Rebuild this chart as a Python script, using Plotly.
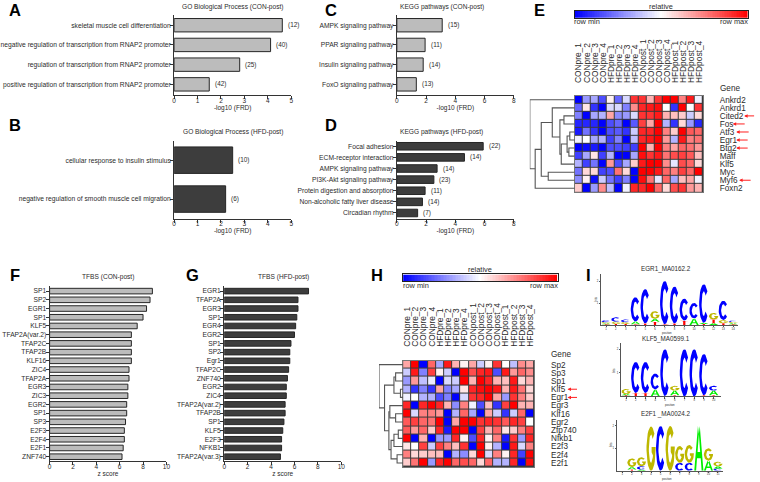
import numpy as np
import plotly.graph_objects as go

W, H = 760, 482
FONT = "Liberation Sans"
INK = "#2b2b2b"

# ---------- bar panels ----------
a_terms = ["skeletal muscle cell differentiation", "negative regulation of transcription from RNAP2 promoter",
           "regulation of transcription from RNAP2 promoter", "positive regulation of transcription from RNAP2 promoter"]
a_vals = [4.62, 4.12, 2.8, 1.5]
a_counts = [12, 40, 25, 42]
b_terms = ["cellular response to insulin stimulus", "negative regulation of smooth muscle cell migration"]
b_vals = [2.5, 2.2]
b_counts = [10, 6]
c_terms = ["AMPK signaling pathway", "PPAR signaling pathway", "Insulin signaling pathway", "FoxO signaling pathway"]
c_vals = [3.1, 1.93, 1.8, 1.33]
c_counts = [15, 11, 14, 13]
d_terms = ["Focal adhesion", "ECM-receptor interaction", "AMPK signaling pathway", "PI3K-Akt signaling pathway",
           "Protein digestion and absorption", "Non-alcoholic fatty liver disease", "Circadian rhythm"]
d_vals = [5.9, 4.62, 2.75, 2.53, 1.93, 1.75, 1.42]
d_counts = [22, 14, 14, 23, 11, 14, 7]
f_terms = ["SP1", "SP2", "EGR1", "SP1", "KLF5", "TFAP2A(var.2)", "TFAP2C", "TFAP2B", "KLF16", "ZIC4", "TFAP2A",
           "EGR3", "ZIC3", "EGR2", "SP1", "SP3", "E2F3", "E2F4", "E2F1", "ZNF740"]
f_vals = [8.8, 8.6, 8.3, 8.0, 7.5, 7.0, 7.0, 7.0, 7.0, 6.8, 6.8, 6.7, 6.7, 6.6, 6.6, 6.5, 6.4, 6.4, 6.3, 6.2]
g_terms = ["EGR1", "TFAP2A", "EGR3", "SP1", "EGR4", "EGR2", "SP1", "SP2", "Egr1", "TFAP2C", "ZNF740", "EGR2", "ZIC4",
           "TFAP2A(var.2)", "TFAP2B", "SP1", "KLF5", "E2F3", "NFKB1", "TFAP2A(var.3)"]
g_vals = [7.2, 6.3, 6.3, 6.2, 6.1, 6.0, 5.7, 5.6, 5.6, 5.5, 5.4, 5.3, 5.3, 5.2, 5.2, 5.1, 5.0, 4.9, 4.9, 4.8]

# ---------- heatmaps ----------
samples = ["CONpre_1", "CONpre_2", "CONpre_3", "CONpre_4", "HFDpre_1", "HFDpre_2", "HFDpre_3", "HFDpre_4",
           "CONpost_1", "CONpost_2", "CONpost_3", "CONpost_4", "HFDpost_1", "HFDpost_2", "HFDpost_3", "HFDpost_4"]
e_genes = ["Ankrd2", "Ankrd1", "Cited2", "Fos", "Atf3", "Egr1", "Btg2", "Maff", "Klf5", "Myc", "Myf6", "Foxn2"]
e_z = [
    [-1, -.4, -.35, -.7, .05, -.6, -.15, .8, .8, .3, .8, 1, 1, .5, .9, -.05],
    [-.6, .1, -.8, -1, -.15, -.15, -.5, .45, .85, .9, .95, 0, -.8, 1, 0, .8],
    [-.5, -1, -.35, -.3, .35, -.45, -.4, -.15, .8, .8, .9, .3, .25, .2, -.2, .15],
    [-.85, -.85, -.85, -1, -.7, -.6, -1, -.65, .75, .35, 1, -.3, -.8, .15, -.4, -.85],
    [-.9, -.55, -.8, -1, -.7, -.65, -.8, -.2, .85, .85, 1, .5, .2, 1, .65, .6],
    [-.05, 0, -.35, -.3, -.75, -.5, -1, -.25, .85, .9, 1, .4, -.3, .9, .5, .55],
    [-1, -.95, -.9, -1, -.7, -.7, -.75, -.75, 1, .3, 1, .5, .35, .6, .55, .4],
    [-.75, -.35, .1, -.75, -.3, -1, -1, -.35, .95, .8, .9, .55, .7, .75, .65, .25],
    [-.3, -.75, -.55, -1, .4, -.7, -.35, .2, .9, 1, 1, .45, -.1, .7, .6, .15],
    [-.55, .15, .15, -.75, -.7, .55, .15, -1, 1, 1, .9, .6, .5, .75, .6, 1],
    [-.45, .05, -.95, -.2, -.55, -.75, -.5, -1, .95, .55, -.1, .6, -.35, .25, .35, -.05],
    [.2, -1, -.4, .45, -.25, -1, -.05, .85, .85, 1, .6, .15, .7, .8, .4, .3],
]
h_genes = ["Sp2", "Sp3", "Sp1", "Klf5", "Egr1", "Egr3", "Klf16", "Egr2", "Zfp740", "Nfkb1", "E2f3", "E2f4", "E2f1"]
h_z = [
    [.35, 1, -1, .6, -.35, .9, .3, .05, .35, -.2, .05, .8, 0, -.25, .45, .35],
    [-.2, .9, -.5, .75, .05, -.2, -1, 1, .7, .85, .9, -.7, .9, .4, .6, .45],
    [-.4, .4, -.25, -.08, -1, -.15, -.2, 1, .3, 1, .85, .3, .25, .9, .15, .3],
    [-.3, -.8, -.5, -.8, .35, -.5, -.35, .1, .85, .95, 1, .9, .3, .9, .55, .15],
    [-.05, 0, -.3, -.3, -.7, -.5, -1, -.15, .8, .85, 1, .35, -.4, .8, .5, .2],
    [.85, -1, .85, 1, .85, .3, -.45, .5, -.05, -.7, .25, -.8, .75, 1, .3, .3],
    [1, -.15, .5, .5, .4, -1, -.3, .6, -.35, -1, .35, -.2, -.8, -.2, .6, -1],
    [.65, .75, .6, .55, 1, -1, .35, 1, 1, .8, .85, .8, .65, .85, .75, 0],
    [.65, .4, .6, .2, .85, -.9, 1, 1, -1, .75, .3, .6, .1, .2, .5, .75],
    [1, -1, .3, -1, -.4, -.4, .85, .05, -.7, .85, .05, .5, -.9, .8, -.4, .85],
    [.1, 0, .75, -.2, .75, .5, .25, .8, -1, 1, .05, -.3, -1, .9, -.15, .5],
    [.5, .15, .2, .25, .25, -1, -.3, -.45, .15, 1, -.15, .5, .05, .85, -.75, 1],
    [.2, .55, 1, -.4, .85, 1, .6, .7, .6, .15, .6, -.3, -.3, .85, -1, .95],
]
# dendrograms: (merge height, left, right)
e_tree = (1.0, "Ankrd2", (.88, (.745, (.5, "Ankrd1", (.33, (.24, "Cited2", "Fos"),
          (.3, (.17, (.11, "Atf3", "Egr1"), (.13, "Btg2", "Maff")), "Klf5"))),
          (.59, "Myc", "Myf6")), "Foxn2"))
h_tree = (1.0, "Sp2", (.77, (.38, (.31, "Sp3", "Sp1"), (.11, "Klf5", "Egr1")),
          (.59, (.55, "Egr3", (.31, "Klf16", "Egr2")),
           (.5, (.38, (.2, "Zfp740", "Nfkb1"), "E2f3"), (.25, "E2f4", "E2f1")))))
e_marked = ["Cited2", "Fos", "Atf3", "Egr1", "Btg2", "Myf6"]
h_marked = ["Klf5", "Egr1"]

# ---------- sequence logos: (letter, bits) bottom to top at each position ----------
logo_egr1 = [[("T", .03), ("A", .04), ("G", .06), ("C", .08)], [("T", .05), ("G", .1), ("C", .2)],
             [("T", .05), ("G", .08), ("C", .12)], [("T", .03), ("A", .13), ("C", 1.1)], [("T", .07), ("C", 1.56)],
             [("T", .15), ("A", .13), ("G", .35)], [("T", .03), ("C", 1.97)], [("T", .07), ("C", 1.68)],
             [("T", .2), ("C", 1.0)], [("A", .3), ("C", .7)], [("T", .05), ("A", .05), ("C", 1.75)],
             [("A", .08), ("T", .17), ("G", .3)], [("T", .08), ("G", .15), ("C", .87)],
             [("T", .03), ("A", .05), ("G", .05), ("C", .07)]]
logo_klf5 = [[("T", .05), ("A", .05), ("G", .22)], [("T", .15), ("C", 1.31)], [("T", .15), ("C", 1.31)],
             [("A", .3), ("C", .67)], [("T", .02), ("C", 1.98)], [("T", .05), ("A", .2), ("G", .2)],
             [("C", 2.0)], [("C", 2.0)], [("T", .05), ("C", 1.75)], [("T", .05), ("A", .2), ("C", .2)]]
logo_e2f1 = [[], [("T", .05), ("A", .12), ("G", .38)], [("A", .05), ("C", .15), ("G", .4)], [("G", 1.97)],
             [("C", 2.0)], [("G", 2.0)], [("C", .35), ("G", .75)], [("C", .35), ("G", .8)], [("A", 2.0)],
             [("A", .45), ("G", .55)], [("C", .1), ("A", .1), ("G", .2)]]

# ---------- helpers ----------
fig = go.Figure()
layout = dict(width=W, height=H, margin=dict(l=0, r=0, t=0, b=0), autosize=False, paper_bgcolor="white",
              plot_bgcolor="white", showlegend=False, font=dict(family=FONT, size=7, color=INK), hovermode=False)
annots = []
axis_n = [0]


def dom_x(x0, x1):
    return [x0 / W, x1 / W]


def dom_y(y0, y1):
    return [1 - y1 / H, 1 - y0 / H]


def new_axes(px, py, xa, ya):
    axis_n[0] += 1
    n = axis_n[0]
    s = "" if n == 1 else str(n)
    layout["xaxis" + s] = dict(domain=dom_x(*px), anchor="y" + s, **xa)
    layout["yaxis" + s] = dict(domain=dom_y(*py), anchor="x" + s, **ya)
    return "x" + s, "y" + s


def text(x, y, s, size=6.7, anchor="center", color=INK, bold=False, angle=0, vanchor="middle"):
    annots.append(dict(x=x / W, y=1 - y / H, xref="paper", yref="paper", text=("<b>%s</b>" % s) if bold else s,
                       showarrow=False, xanchor=anchor, yanchor=vanchor, textangle=angle, borderpad=0,
                       font=dict(size=size, color=color, family=FONT)))


def bars(px, py, terms, vals, counts, xmax, dtick, dark, title_x, title_y, title_text, xtitle, gap):
    n = len(terms)
    idx = list(range(n))
    axis_line = dict(showline=True, linecolor="#333", linewidth=1.1, ticks="outside", ticklen=3, tickwidth=1,
                     tickcolor="#333", showgrid=False, zeroline=False)
    xa, ya = new_axes(px, py,
                      dict(range=[0, xmax], dtick=dtick, tickfont=dict(size=6.5), ticklabelstandoff=-4, **axis_line,
                           title=dict(text=xtitle, font=dict(size=6.5), standoff=2)),
                      dict(range=[n - .5 + gap[1], -.5 - gap[0]], tickvals=idx, ticktext=terms,
                           tickfont=dict(size=6.7), ticklabelstandoff=-2, **axis_line))
    fig.add_bar(x=vals, y=idx, orientation="h", xaxis=xa, yaxis=ya, width=0.68 if n < 10 else .64,
                marker=dict(color="#3d3d3d" if dark else "#bcbcbc", line=dict(color="#262626", width=1)))
    if counts:
        for i, (v, c) in enumerate(zip(vals, counts)):
            annots.append(dict(x=v, y=i, xref=xa, yref=ya, text="(%d)" % c, showarrow=False, xanchor="left",
                               xshift=3.5, font=dict(size=6.4, color=INK)))
    text(title_x, title_y, title_text, size=6.6)


SCALE = [[0, "#0000ff"], [.5, "#ffffff"], [1, "#ff0000"]]


def tree_segments(node, genes, xs, ys):
    if isinstance(node, str):
        return float(genes.index(node)), 0.0
    d, left, right = node
    y1, d1 = tree_segments(left, genes, xs, ys)
    y2, d2 = tree_segments(right, genes, xs, ys)
    xs += [d1, d, d, d2, None]
    ys += [y1, y1, y2, y2, None]
    return (y1 + y2) / 2, d


def heat(px, py, z, genes, tree, marked, tree_x, bar_px, bar_py, labels_y, gene_off, gene_x, gene_y, arrow_px):
    n = len(genes)
    xa, ya = new_axes(px, py,
                      dict(side="top", range=[-.5, 15.5], tickvals=list(range(16)), ticktext=samples, tickangle=-90,
                           tickfont=dict(size=8.4), ticks="", ticklabelstandoff=labels_y, showgrid=False,
                           zeroline=False, showline=True, mirror=True, linecolor="#777", linewidth=1),
                      dict(side="right", range=[n - .5, -.5], tickvals=list(range(n)), ticktext=genes,
                           tickfont=dict(size=8.2), ticks="", ticklabelstandoff=gene_off, showgrid=False,
                           zeroline=False, showline=True, mirror=True, linecolor="#777", linewidth=1))
    # dark frame behind the cells shows through the gaps
    layout.setdefault("shapes", []).append(dict(type="rect", xref=xa + " domain", yref=ya + " domain", x0=0, x1=1, y0=0, y1=1,
                                                fillcolor="#3a3a3a", line=dict(width=0), layer="below"))
    fig.add_heatmap(z=z, xaxis=xa, yaxis=ya, colorscale=SCALE, zmin=-1, zmax=1, showscale=False, xgap=1, ygap=1)
    xs, ys = [], []
    tree_segments(tree, genes, xs, ys)
    txa, tya = new_axes((tree_x, px[0]), py, dict(range=[1, 0], visible=False), dict(range=[n - .5, -.5], visible=False))
    fig.add_scatter(x=xs, y=ys, mode="lines", xaxis=txa, yaxis=tya, line=dict(color="#555", width=1.1), cliponaxis=False)
    # colour key
    bxa, bya = new_axes(bar_px, bar_py,
                        dict(visible=True, showticklabels=False, ticks="", showgrid=False, zeroline=False, showline=True,
                             mirror=True, linecolor="#222", linewidth=1),
                        dict(visible=True, showticklabels=False, ticks="", showgrid=False, zeroline=False, showline=True,
                             mirror=True, linecolor="#222", linewidth=1))
    fig.add_heatmap(z=[np.linspace(-1, 1, 101).tolist()], xaxis=bxa, yaxis=bya, colorscale=SCALE, zmin=-1, zmax=1, showscale=False)
    text((bar_px[0] + bar_px[1]) / 2, bar_py[0] - 4.5, "relative", size=7.4)
    text(bar_px[0] - 1.5, bar_py[1] + 4.3, "row min", size=7.4, anchor="left")
    text(bar_px[1] + 1.5, bar_py[1] + 4.3, "row max", size=7.4, anchor="right")
    text(gene_x, gene_y, "Gene", size=8.2, anchor="left")
    for g, (x0, x1) in zip(marked, arrow_px):
        annots.append(dict(x=x0 / W, y=genes.index(g), xref="paper", yref=ya, ax=x1 - x0, ay=0, axref="pixel", ayref="pixel",
                           text="", showarrow=True, arrowcolor="#ff2020", arrowhead=2, arrowsize=.7, arrowwidth=1))


GLYPH_COL = {"A": "#00ee00", "C": "#0000ff", "G": "#bdb700", "T": "#ff0000"}


def arc(rx, ry, t0, t1, m=28):
    t = np.linspace(t0, t1, m)
    return (.5 + rx * np.cos(t)).tolist(), (.5 + ry * np.sin(t)).tolist()


_cox, _coy = arc(.5, .5, .7, 2 * np.pi - .7)
_cix, _ciy = arc(.24, .32, 2 * np.pi - .7, .7)
_gox, _goy = arc(.5, .5, .75, 2 * np.pi)
_gix, _giy = arc(.24, .32, 2 * np.pi - .5, .75)
GLYPHS = {
    "C": (_cox + _cix, _coy + _ciy),
    "G": (_gox + [1.0, .56, .56] + _gix, _goy + [.54, .54, .42] + _giy),
    "A": ([0, .2, .3, .7, .8, 1, .6, .5, .64, .36, .5, .4], [0, 0, .28, .28, 0, 0, 1, .82, .42, .42, .82, 1]),
    "T": ([.38, .62, .62, 1, 1, 0, 0, .38], [0, 0, .84, .84, 1, 1, .84, .84]),
}


def logo(px, py, stacks, xr, yr, title, title_xy, pos_xy, bits_xy):
    n = len(stacks)
    ax_style = dict(showline=True, linecolor="#555", linewidth=.8, ticks="outside", ticklen=1.5, tickwidth=.6,
                    tickcolor="#555", showgrid=False, zeroline=False, tickfont=dict(size=2.8))
    xa, ya = new_axes(px, py, dict(range=xr, tickvals=list(range(1, n + 1)), ticklabelstandoff=-1, **ax_style),
                      dict(range=[0, yr], tickvals=[1, 2], **ax_style))
    paths = {k: ([], []) for k in GLYPHS}
    for i, stack in enumerate(stacks):
        base = 0.0
        for letter, h in stack:
            gx, gy = GLYPHS[letter]
            paths[letter][0].extend([(i + 1) - .48 + .96 * v for v in gx] + [None])
            paths[letter][1].extend([base + h * v for v in gy] + [None])
            base += h
    for k, (xs, ys) in paths.items():
        if xs:
            fig.add_scatter(x=xs, y=ys, mode="lines", fill="toself", fillcolor=GLYPH_COL[k], xaxis=xa, yaxis=ya,
                            line=dict(width=0, color=GLYPH_COL[k]))
    text(title_xy[0], title_xy[1], title, size=6.3)
    text(pos_xy[0], pos_xy[1], "position", size=2.8)
    text(bits_xy[0], bits_xy[1], "bits", size=3, angle=-90)


# ---------- panels ----------
XT1 = "-log10 (FRD)"
bars((173.5, 291.5), (15, 95), a_terms, a_vals, a_counts, 5, 1, False, 233, 7, "GO Biological Process (CON-post)", XT1, (.02, 0.03))
bars((173.5, 291.5), (141, 219), b_terms, b_vals, b_counts, 5, 1, True, 233, 132.5, "GO Biological Process (HFD-post)", XT1, (.0, 0.0))
bars((398, 516), (15, 95), c_terms, c_vals, c_counts, 8, 2, False, 443.5, 7, "KEGG pathways (CON-post)", XT1, (.02, 0.03))
bars((398, 516), (141, 219), d_terms, d_vals, d_counts, 8, 2, True, 443.5, 132.5, "KEGG pathways (HFD-post)", XT1, (.0, 0.0))
bars((48, 165.7), (287, 462), f_terms, f_vals, None, 10, 2, False, 106.7, 278, "TFBS (CON-post)", "z score", (.04, 0))
bars((224, 342), (287, 462), g_terms, g_vals, None, 10, 2, True, 283.3, 278, "TFBS (HFD-post)", "z score", (.04, 0))

heat((577.3, 706.7), (96, 192.7), e_z, e_genes, e_tree, e_marked, 532, (577.3, 751.7), (11, 17.7), 10, 14, 722.7, 89,
     [(748, 759.5), (736.5, 750), (740, 754), (740, 753), (740, 753), (743, 756)])
heat((404.3, 536.7), (361.3, 468), h_z, h_genes, h_tree, h_marked, 380, (404.3, 560), (275, 281.7), 11, 14, 552.7, 355,
     [(570, 581), (570, 581)])

logo((604, 741.7), (275, 325.7), logo_egr1, [.5, 14.48], 2.3, "EGR1_MA0162.2", (669, 269.5), (670, 333.5), (599, 300))
logo((624.3, 725), (344, 397.3), logo_klf5, [.52, 10.78], 2.25, "KLF5_MA0599.1", (669, 339.5), (673, 405.5), (616.7, 371))
logo((620, 726.7), (421, 471.7), logo_e2f1, [.45, 11.52], 2.26, "E2F1 _MA0024.2", (669, 415), (670, 479.5), (614, 446))

# panel letters
for letter, x, y in [("A", 13.5, 0), ("B", 13.5, 115), ("C", 332, 0), ("D", 332, 115), ("E", 542, 0),
                     ("F", 13, 266), ("G", 192, 266), ("H", 378, 266), ("I", 591, 266)]:
    text(x, y, letter, size=16.5, color="#000", bold=True, vanchor="top")

layout["annotations"] = annots
fig.update_layout(**layout)
fig.write_html("out.html", post_script="document.body.style.margin='0';", config={"displayModeBar": False})
